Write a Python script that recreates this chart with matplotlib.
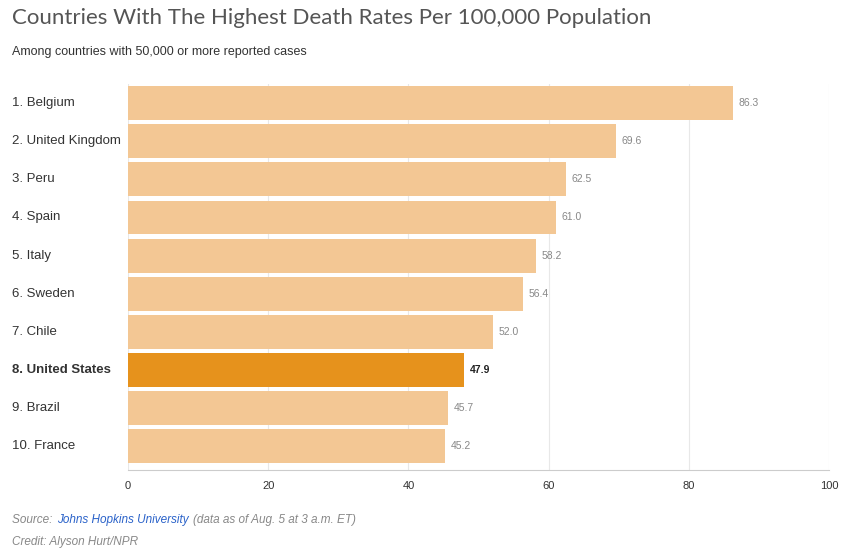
import matplotlib
matplotlib.use("Agg")
import matplotlib.pyplot as plt

countries = ["1. Belgium","2. United Kingdom","3. Peru","4. Spain","5. Italy","6. Sweden","7. Chile","8. United States","9. Brazil","10. France"]
values = [86.3,69.6,62.5,61.0,58.2,56.4,52.0,47.9,45.7,45.2]
xticks = [0,20,40,60,80,100]
highlight = "8. United States"

plt.rcParams['font.family'] = ['Liberation Sans', 'DejaVu Sans']
fig = plt.figure(figsize=(8.49,5.54), dpi=100)
ax = fig.add_axes([128/849, 1-470/554, 701/849, (470-84)/554])
ys = list(range(len(values)))
cols = ["#e6921c" if c == highlight else "#f3c794" for c in countries]
ax.barh(ys, values, height=0.89, color=cols, zorder=2)
ax.set_ylim(len(values)-0.5+0.12, -0.5)
ax.set_xlim(0,100)
ax.set_xticks(xticks)
ax.tick_params(axis='x', length=0, labelsize=8, colors="#333333", pad=8)
ax.set_yticks([])
for s in ["top","right","left"]:
    ax.spines[s].set_visible(False)
ax.spines["bottom"].set_color("#cccccc")
ax.grid(axis='x', color="#e8e8e8", lw=0.8, zorder=0)
for y, v, c in zip(ys, values, countries):
    b = c == highlight
    ax.text(v+0.8, y, f"{v:.1f}", va='center', ha='left', fontsize=7.5,
            color="#222222" if b else "#888888", fontweight='bold' if b else 'normal')
    ax.text(-16.5, y, c, va='center', ha='left', fontsize=9.5, color="#333333",
            fontweight='bold' if b else 'normal')
fig.text(12/849, 1-18/554, "Countries With The Highest Death Rates Per 100,000 Population",
         fontsize=16, color="#555555", va='center', family=['Lato','DejaVu Sans'])
fig.text(12/849, 1-52/554, "Among countries with 50,000 or more reported cases", fontsize=9, color="#333333", va='center')
fig.text(12/849, 1-520/554, "Source: ", fontsize=8.5, color="#888888", style='italic', va='center')
fig.text(57/849, 1-520/554, "Johns Hopkins University", fontsize=8.5, color="#2a62c9", style='italic', va='center')
fig.text(193/849, 1-520/554, "(data as of Aug. 5 at 3 a.m. ET)", fontsize=8.5, color="#888888", style='italic', va='center')
fig.text(12/849, 1-542/554, "Credit: Alyson Hurt/NPR", fontsize=8.5, color="#888888", style='italic', va='center')
fig.savefig("out.png", dpi=100)
